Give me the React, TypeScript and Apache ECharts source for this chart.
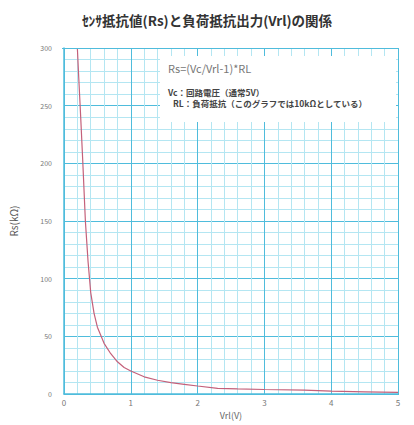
import React, { useEffect, useRef } from "react";
import * as echarts from "echarts";

const titleText = "ｾﾝｻ抵抗値(Rs)と負荷抵抗出力(Vrl)の関係";
const formulaText = "Rs=(Vc/Vrl-1)*RL";
const noteLines = ["Vc：回路電圧（通常5V）", "RL：負荷抵抗（このグラフでは10kΩとしている）"];
const xName = "Vrl(V)";
const yName = "Rs(kΩ)";

const vrl = [0.2, 0.22, 0.25, 0.28, 0.32, 0.36, 0.4, 0.45, 0.5, 0.6, 0.7, 0.8, 0.9, 1.0, 1.2, 1.4, 1.6, 1.8, 2.0, 2.3, 2.6, 3.0, 3.6, 4.0, 4.5, 5.0];
const rs = [300, 275, 240, 203, 150, 115, 88, 70, 58, 44, 35, 28, 23, 20, 15, 12, 10, 8.5, 7, 5, 4.5, 4, 3.5, 2.5, 2, 1.5];

const FONT = "'Noto Sans CJK JP', 'Noto Sans', sans-serif";

export default function App() {
  const ref = useRef<HTMLDivElement>(null);
  useEffect(() => {
    if (!ref.current) return;
    const chart = echarts.init(ref.current, undefined, { renderer: "svg" });
    const minor = "#b4e6f2";
    const major = "#4fbcdc";
    chart.setOption({
      animation: false,
      backgroundColor: "#ffffff",
      textStyle: { fontFamily: FONT },
      title: {
        text: titleText,
        left: "center",
        top: 8,
        textStyle: { fontSize: 13.5, fontWeight: "bold", color: "#333", fontFamily: FONT },
      },
      grid: { left: 62, right: 16, top: 48, bottom: 30 },
      xAxis: {
        type: "value",
        min: 0,
        max: 5,
        interval: 1,
        name: xName,
        nameLocation: "middle",
        nameGap: 15,
        nameTextStyle: { fontSize: 9, color: "#666", fontFamily: FONT },
        axisLine: { show: true, lineStyle: { color: major, width: 1.5 } },
        axisTick: { show: false },
        axisLabel: { fontSize: 8, color: "#777", margin: 4, fontFamily: FONT },
        splitLine: { show: true, lineStyle: { color: major, width: 1 } },
        minorTick: { show: false, splitNumber: 5 },
        minorSplitLine: { show: true, lineStyle: { color: minor, width: 1 } },
      },
      yAxis: {
        type: "value",
        min: 0,
        max: 300,
        interval: 50,
        name: yName,
        nameLocation: "middle",
        nameGap: 46,
        nameRotate: 90,
        nameTextStyle: { fontSize: 10, color: "#555", fontFamily: FONT },
        axisLine: { show: true, lineStyle: { color: major, width: 1.5 } },
        axisTick: { show: false },
        axisLabel: { fontSize: 7, color: "#777", margin: 12, fontFamily: FONT },
        splitLine: { show: true, lineStyle: { color: major, width: 1 } },
        minorTick: { show: false, splitNumber: 5 },
        minorSplitLine: { show: true, lineStyle: { color: minor, width: 1 } },
      },
      graphic: [
        { type: "rect", z: 100, shape: { x: 398, y: 48, width: 1, height: 347 }, style: { fill: major } },
        { type: "rect", z: 100, shape: { x: 62, y: 48, width: 336, height: 1 }, style: { fill: major } },
        { type: "rect", z: 100, shape: { x: 160, y: 56, width: 236, height: 66 }, style: { fill: "#ffffff" } },
        { type: "text", z: 101, x: 168, y: 62, style: { text: formulaText, fontSize: 11, fill: "#777", fontFamily: FONT } },
        { type: "text", z: 101, x: 168, y: 88, style: { text: noteLines[0], fontSize: 8.5, fill: "#444", fontWeight: "bold", fontFamily: FONT } },
        { type: "text", z: 101, x: 173, y: 99, style: { text: noteLines[1], fontSize: 8.5, fill: "#444", fontWeight: "bold", fontFamily: FONT } },
      ],
      series: [
        {
          type: "line",
          data: vrl.map((v, i) => [v, rs[i]]),
          showSymbol: false,
          symbol: "none",
          smooth: false,
          clip: true,
          lineStyle: { color: "#c4607a", width: 1.2 },
          z: 10,
        },
      ],
    });
    return () => chart.dispose();
  }, []);
  return <div ref={ref} style={{ position: "fixed", left: 0, top: 0, width: 414, height: 425 }} />;
}
